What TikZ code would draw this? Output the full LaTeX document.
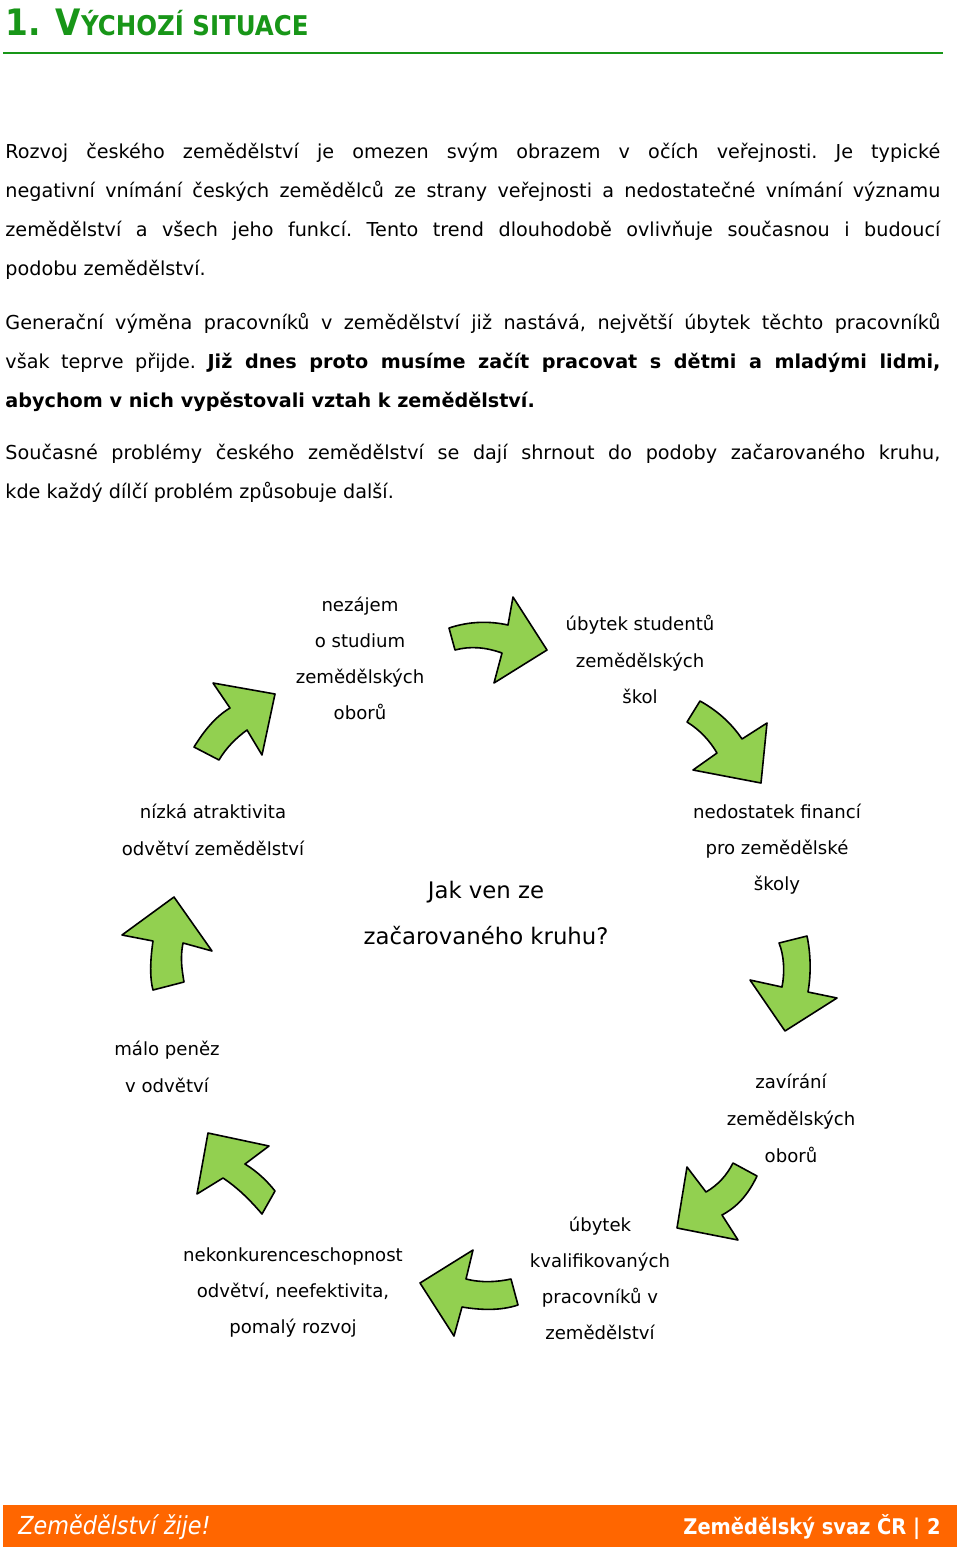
\documentclass[tikz,border=0pt]{standalone}
\usepackage{fontspec}
\setmainfont{DejaVu Sans}
\newfontfamily\condfont{DejaVu Sans Condensed}
\definecolor{titlegreen}{RGB}{24,150,24}
\definecolor{arrowgreen}{RGB}{146,208,80}
\definecolor{footorange}{RGB}{255,102,0}
\newcommand\jline[1]{\makebox[467.5pt][s]{#1}}
\tikzset{
  body/.style={anchor=base west, inner sep=0pt, font=\fontsize{9.6}{12}\selectfont\frenchspacing},
  lbl/.style={anchor=base, inner sep=0pt, font=\fontsize{9.05}{12}\selectfont},
  big/.style={anchor=base, inner sep=0pt, font=\fontsize{11.4}{14}\selectfont},
  arr/.style={fill=arrowgreen, draw=black, line width=0.8pt, line join=round},
  foot/.style={inner sep=0pt, text=white}
}
\begin{document}
\begin{tikzpicture}[x=0.5pt,y=-0.5pt]
\useasboundingbox (0,0) rectangle (960,1554);
% title
\node[anchor=base west, inner sep=0pt, text=titlegreen, font=\condfont\bfseries] (title) at (5,35)
  {\fontsize{18.2}{20}\selectfont 1. V\fontsize{13.6}{16}\selectfont ÝCHOZÍ SITUACE};
\draw[titlegreen, line width=1pt] (3,53) -- (943,53);
% paragraph 1
\node[body] (p1a) at (5,158) {\jline{Rozvoj českého zemědělství je omezen svým obrazem v očích veřejnosti. Je typické}};
\node[body] (p1b) at (5,197) {\jline{negativní vnímání českých zemědělců ze strany veřejnosti a nedostatečné vnímání významu}};
\node[body] (p1c) at (5,236) {\jline{zemědělství a všech jeho funkcí. Tento trend dlouhodobě ovlivňuje současnou i budoucí}};
\node[body] (p1d) at (5,275) {podobu zemědělství.};
% paragraph 2
\node[body] (p2a) at (5,329) {\jline{Generační výměna pracovníků v zemědělství již nastává, největší úbytek těchto pracovníků}};
\node[body] (p2b) at (5,368) {\jline{však teprve přijde. \textbf{Již dnes proto musíme začít pracovat s dětmi a mladými lidmi,}}};
\node[body] (p2c) at (5,407) {\textbf{abychom v nich vypěstovali vztah k zemědělství.}};
% paragraph 3
\node[body] (p3a) at (5,459) {\jline{Současné problémy českého zemědělství se dají shrnout do podoby začarovaného kruhu,}};
\node[body] (p3b) at (5,498) {kde každý dílčí problém způsobuje další.};
% diagram labels
\node[lbl] (a1) at (360,611) {nezájem};
\node[lbl] (a2) at (360,647) {o studium};
\node[lbl] (a3) at (360,683) {zemědělských};
\node[lbl] (a4) at (360,719) {oborů};
\node[lbl] (b1) at (640,630) {úbytek studentů};
\node[lbl] (b2) at (640,667) {zemědělských};
\node[lbl] (b3) at (640,703) {škol};
\node[lbl] (c1) at (213,818) {nízká atraktivita};
\node[lbl] (c2) at (213,855) {odvětví zemědělství};
\node[lbl] (d1) at (777,818) {nedostatek financí};
\node[lbl] (d2) at (777,854) {pro zemědělské};
\node[lbl] (d3) at (777,890) {školy};
\node[big] (m1) at (486,898) {Jak ven ze};
\node[big] (m2) at (486,944) {začarovaného kruhu?};
\node[lbl] (e1) at (167,1055) {málo peněz};
\node[lbl] (e2) at (167,1092) {v odvětví};
\node[lbl] (f1) at (791,1088) {zavírání};
\node[lbl] (f2) at (791,1125) {zemědělských};
\node[lbl] (f3) at (791,1162) {oborů};
\node[lbl] (g1) at (600,1231) {úbytek};
\node[lbl] (g2) at (600,1267) {kvalifikovaných};
\node[lbl] (g3) at (600,1303) {pracovníků v};
\node[lbl] (g4) at (600,1339) {zemědělství};
\node[lbl] (h1) at (293,1261) {nekonkurenceschopnost};
\node[lbl] (h2) at (293,1297) {odvětví, neefektivita,};
\node[lbl] (h3) at (293,1333) {pomalý rozvoj};
% arrows
\draw[arr] (449,628) .. controls (470,621) and (490,621) .. (508,625) -- (513,597) -- (547,650) -- (494,683) -- (502,653) .. controls (485,647) and (470,646) .. (455,650) -- cycle;
\draw[arr] (213,683) -- (275,694) -- (262,755) -- (247,730) .. controls (236,738) and (226,748) .. (219,760) -- (194,747) .. controls (204,731) and (215,717) .. (230,708) -- cycle;
\draw[arr] (700,701) .. controls (718,711) and (732,724) .. (742,739) -- (767,723) -- (761,783) -- (693,770) -- (717,753) .. controls (710,741) and (700,730) .. (687,722) -- cycle;
\draw[arr] (174,897) -- (212,951) -- (183,943) .. controls (180,958) and (182,970) .. (184,982) -- (153,990) .. controls (149,975) and (151,955) .. (153,941) -- (122,935) -- cycle;
\draw[arr] (779,943) -- (807,936) .. controls (811,955) and (811,975) .. (808,992) -- (837,998) -- (785,1031) -- (750,980) -- (782,987) .. controls (785,972) and (784,955) .. (779,943) -- cycle;
\draw[arr] (208,1133) -- (269,1146) -- (245,1164) .. controls (258,1172) and (268,1182) .. (275,1191) -- (262,1214) .. controls (250,1200) and (238,1188) .. (223,1178) -- (197,1194) -- cycle;
\draw[arr] (733,1163) -- (757,1176) .. controls (748,1195) and (737,1207) .. (722,1215) -- (738,1240) -- (677,1228) -- (687,1167) -- (706,1192) .. controls (718,1185) and (727,1175) .. (733,1163) -- cycle;
\draw[arr] (473,1250) -- (466,1279) .. controls (482,1283) and (497,1282) .. (511,1279) -- (518,1305) .. controls (500,1311) and (480,1310) .. (462,1307) -- (454,1336) -- (420,1283) -- cycle;
% footer
\fill[footorange] (3,1505) rectangle (957,1547);
\node[foot, anchor=base west, font=\condfont\fontsize{12.4}{14}\selectfont\itshape] (fl) at (18,1534) {Zemědělství žije!};
\node[foot, anchor=base east, font=\condfont\fontsize{10.8}{13}\selectfont\bfseries] (fr) at (941,1534) {Zemědělský svaz ČR | 2};
\end{tikzpicture}
\end{document}
